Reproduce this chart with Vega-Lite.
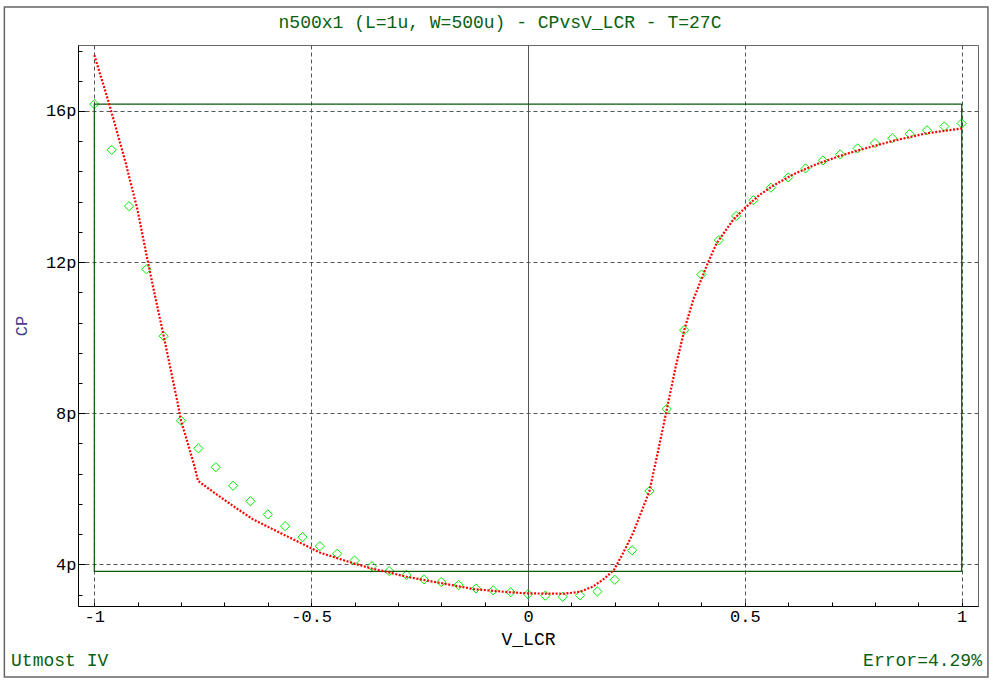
{
  "$schema": "https://vega.github.io/schema/vega-lite/v6.json",
  "width": 900,
  "height": 561,
  "autosize": {"type": "none"},
  "padding": {"left": 78, "top": 45, "right": 14, "bottom": 74},
  "background": "white",
  "title": {
    "text": "n500x1 (L=1u, W=500u) - CPvsV_LCR - T=27C",
    "font": "Liberation Mono", "fontSize": 18, "fontWeight": "normal", "color": "#0a6010",
    "anchor": "middle", "frame": "group", "offset": 0, "dx": -28, "dy": 26
  },
  "config": {
    "view": {"stroke": "#666666", "strokeWidth": 1},
    "axis": {
      "labelFont": "Liberation Mono", "labelFontSize": 17, "labelColor": "black",
      "titleFont": "Liberation Mono", "titleFontWeight": "normal",
      "domainColor": "black", "tickColor": "black", "gridColor": "#555555",
      "labelFlush": false, "labelOverlap": false, "labelBound": false
    }
  },
  "datasets": {
    "measured": [
      {"V_LCR": -1.00, "CP": 16.18}, {"V_LCR": -0.96, "CP": 14.97}, {"V_LCR": -0.92, "CP": 13.48},
      {"V_LCR": -0.88, "CP": 11.81}, {"V_LCR": -0.84, "CP": 10.04}, {"V_LCR": -0.80, "CP": 7.80},
      {"V_LCR": -0.76, "CP": 7.07}, {"V_LCR": -0.72, "CP": 6.57}, {"V_LCR": -0.68, "CP": 6.08},
      {"V_LCR": -0.64, "CP": 5.67}, {"V_LCR": -0.60, "CP": 5.32}, {"V_LCR": -0.56, "CP": 5.01},
      {"V_LCR": -0.52, "CP": 4.72}, {"V_LCR": -0.48, "CP": 4.48}, {"V_LCR": -0.44, "CP": 4.28},
      {"V_LCR": -0.40, "CP": 4.10}, {"V_LCR": -0.36, "CP": 3.95}, {"V_LCR": -0.32, "CP": 3.82},
      {"V_LCR": -0.28, "CP": 3.72}, {"V_LCR": -0.24, "CP": 3.60}, {"V_LCR": -0.20, "CP": 3.53},
      {"V_LCR": -0.16, "CP": 3.45}, {"V_LCR": -0.12, "CP": 3.36}, {"V_LCR": -0.08, "CP": 3.31},
      {"V_LCR": -0.04, "CP": 3.26}, {"V_LCR": 0.00, "CP": 3.21}, {"V_LCR": 0.04, "CP": 3.17},
      {"V_LCR": 0.08, "CP": 3.14}, {"V_LCR": 0.12, "CP": 3.18}, {"V_LCR": 0.16, "CP": 3.28},
      {"V_LCR": 0.20, "CP": 3.59}, {"V_LCR": 0.24, "CP": 4.37}, {"V_LCR": 0.28, "CP": 5.94},
      {"V_LCR": 0.32, "CP": 8.11}, {"V_LCR": 0.36, "CP": 10.20}, {"V_LCR": 0.40, "CP": 11.67},
      {"V_LCR": 0.44, "CP": 12.58}, {"V_LCR": 0.48, "CP": 13.22}, {"V_LCR": 0.52, "CP": 13.64},
      {"V_LCR": 0.56, "CP": 13.97}, {"V_LCR": 0.60, "CP": 14.24}, {"V_LCR": 0.64, "CP": 14.48},
      {"V_LCR": 0.68, "CP": 14.69}, {"V_LCR": 0.72, "CP": 14.85}, {"V_LCR": 0.76, "CP": 15.01},
      {"V_LCR": 0.80, "CP": 15.15}, {"V_LCR": 0.84, "CP": 15.28}, {"V_LCR": 0.88, "CP": 15.39},
      {"V_LCR": 0.92, "CP": 15.49}, {"V_LCR": 0.96, "CP": 15.59}, {"V_LCR": 1.00, "CP": 15.67}
    ],
    "simulated": [
      {"V_LCR": -1.000, "CP": 17.48}, {"V_LCR": -0.965, "CP": 16.16}, {"V_LCR": -0.927, "CP": 14.60},
      {"V_LCR": -0.900, "CP": 13.36}, {"V_LCR": -0.876, "CP": 11.98}, {"V_LCR": -0.864, "CP": 11.32},
      {"V_LCR": -0.840, "CP": 10.04}, {"V_LCR": -0.808, "CP": 8.28}, {"V_LCR": -0.800, "CP": 7.80},
      {"V_LCR": -0.780, "CP": 7.03}, {"V_LCR": -0.769, "CP": 6.59}, {"V_LCR": -0.761, "CP": 6.21},
      {"V_LCR": -0.718, "CP": 5.85}, {"V_LCR": -0.672, "CP": 5.48}, {"V_LCR": -0.634, "CP": 5.19},
      {"V_LCR": -0.580, "CP": 4.88}, {"V_LCR": -0.520, "CP": 4.54}, {"V_LCR": -0.480, "CP": 4.31},
      {"V_LCR": -0.404, "CP": 4.03}, {"V_LCR": -0.361, "CP": 3.89}, {"V_LCR": -0.319, "CP": 3.78},
      {"V_LCR": -0.280, "CP": 3.67}, {"V_LCR": -0.200, "CP": 3.50}, {"V_LCR": -0.123, "CP": 3.34},
      {"V_LCR": -0.042, "CP": 3.26}, {"V_LCR": 0.000, "CP": 3.23}, {"V_LCR": 0.081, "CP": 3.22},
      {"V_LCR": 0.119, "CP": 3.27}, {"V_LCR": 0.150, "CP": 3.41}, {"V_LCR": 0.177, "CP": 3.63},
      {"V_LCR": 0.198, "CP": 3.85}, {"V_LCR": 0.219, "CP": 4.29}, {"V_LCR": 0.242, "CP": 4.82},
      {"V_LCR": 0.254, "CP": 5.17}, {"V_LCR": 0.280, "CP": 5.94}, {"V_LCR": 0.300, "CP": 7.00},
      {"V_LCR": 0.320, "CP": 8.10}, {"V_LCR": 0.340, "CP": 9.20}, {"V_LCR": 0.361, "CP": 10.23},
      {"V_LCR": 0.381, "CP": 11.00}, {"V_LCR": 0.415, "CP": 11.99}, {"V_LCR": 0.435, "CP": 12.50},
      {"V_LCR": 0.473, "CP": 13.12}, {"V_LCR": 0.500, "CP": 13.43}, {"V_LCR": 0.534, "CP": 13.78},
      {"V_LCR": 0.565, "CP": 14.02}, {"V_LCR": 0.611, "CP": 14.32}, {"V_LCR": 0.665, "CP": 14.59},
      {"V_LCR": 0.719, "CP": 14.81}, {"V_LCR": 0.765, "CP": 14.97}, {"V_LCR": 0.842, "CP": 15.21},
      {"V_LCR": 0.919, "CP": 15.41}, {"V_LCR": 1.000, "CP": 15.54}
    ],
    "fitbox": [{"V_LCR": -1, "V_LCR_end": 1, "CP": 3.815, "CP_end": 16.18}],
    "blank": [{}]
  },
  "layer": [
    {
      "data": {"name": "measured"},
      "mark": {"type": "point", "shape": "diamond", "filled": false, "stroke": "#00ee00", "strokeWidth": 1, "size": 85, "opacity": 1},
      "encoding": {
        "x": {
          "field": "V_LCR", "type": "quantitative",
          "scale": {"domain": [-1.0376, 1.0376], "nice": false, "zero": false},
          "axis": {
            "title": "V_LCR", "titleFontSize": 18, "titleColor": "black", "titlePadding": 6,
            "values": [-1, -0.9, -0.8, -0.7, -0.6, -0.5, -0.4, -0.3, -0.2, -0.1, 0, 0.1, 0.2, 0.3, 0.4, 0.5, 0.6, 0.7, 0.8, 0.9, 1],
            "tickCount": 100,
            "labelExpr": "abs(datum.value*2 - round(datum.value*2)) < 0.001 ? '' + datum.value : ''",
            "tickSize": -4, "labelPadding": 6,
            "grid": true,
            "gridDash": {"condition": {"test": "abs(datum.value) < 0.001", "value": []}, "value": [4, 3]},
            "gridOpacity": {"condition": {"test": "abs(datum.value*2 - round(datum.value*2)) < 0.001", "value": 1}, "value": 0}
          }
        },
        "y": {
          "field": "CP", "type": "quantitative",
          "scale": {"domain": [2.896, 17.747], "nice": false, "zero": false},
          "axis": {
            "title": "CP", "titleFontSize": 17, "titleColor": "#4a3a8a", "titlePadding": 15,
            "values": [3.2, 4, 4.8, 5.6, 6.4, 7.2, 8, 8.8, 9.6, 10.4, 11.2, 12, 12.8, 13.6, 14.4, 15.2, 16, 16.8, 17.6],
            "tickCount": 100,
            "labelExpr": "abs(datum.value/4 - round(datum.value/4)) < 0.001 ? datum.value + 'p' : ''",
            "tickSize": {"condition": {"test": "abs(datum.value/4 - round(datum.value/4)) < 0.001", "value": -7}, "value": -4},
            "labelPadding": 9,
            "grid": true,
            "gridDash": [4, 3],
            "gridOpacity": {"condition": {"test": "abs(datum.value/4 - round(datum.value/4)) < 0.001", "value": 1}, "value": 0}
          }
        }
      }
    },
    {
      "data": {"name": "fitbox"},
      "mark": {"type": "rect", "fill": null, "fillOpacity": 0, "stroke": "#0a5a0a", "strokeWidth": 1.2},
      "encoding": {
        "x": {"field": "V_LCR", "type": "quantitative", "title": "V_LCR"},
        "x2": {"field": "V_LCR_end"},
        "y": {"field": "CP", "type": "quantitative", "title": "CP"},
        "y2": {"field": "CP_end"}
      }
    },
    {
      "data": {"name": "simulated"},
      "mark": {"type": "line", "color": "#ff0000", "strokeWidth": 2.2, "strokeDash": [2, 1.6], "strokeCap": "butt"},
      "encoding": {
        "x": {"field": "V_LCR", "type": "quantitative", "title": "V_LCR"},
        "y": {"field": "CP", "type": "quantitative", "title": "CP"}
      }
    },
    {
      "data": {"name": "blank"},
      "mark": {"type": "rect", "fill": null, "fillOpacity": 0, "stroke": "#666666", "strokeWidth": 1.5, "clip": false},
      "encoding": {
        "x": {"datum": -1.2074, "type": "quantitative", "title": "V_LCR"},
        "x2": {"datum": 1.0605},
        "y": {"datum": 18.753, "type": "quantitative", "title": "CP"},
        "y2": {"datum": 1.016}
      }
    },
    {
      "data": {"name": "blank"},
      "mark": {"type": "text", "text": "Utmost IV", "font": "Liberation Mono", "fontSize": 18, "color": "#0a6010", "align": "left", "baseline": "alphabetic", "clip": false},
      "encoding": {
        "x": {"datum": -1.192, "type": "quantitative", "title": "V_LCR"},
        "y": {"datum": 1.308, "type": "quantitative", "title": "CP"}
      }
    },
    {
      "data": {"name": "blank"},
      "mark": {"type": "text", "text": "Error=4.29%", "font": "Liberation Mono", "fontSize": 18, "color": "#0a6010", "align": "right", "baseline": "alphabetic", "clip": false},
      "encoding": {
        "x": {"datum": 1.0467, "type": "quantitative", "title": "V_LCR"},
        "y": {"datum": 1.308, "type": "quantitative", "title": "CP"}
      }
    }
  ]
}
